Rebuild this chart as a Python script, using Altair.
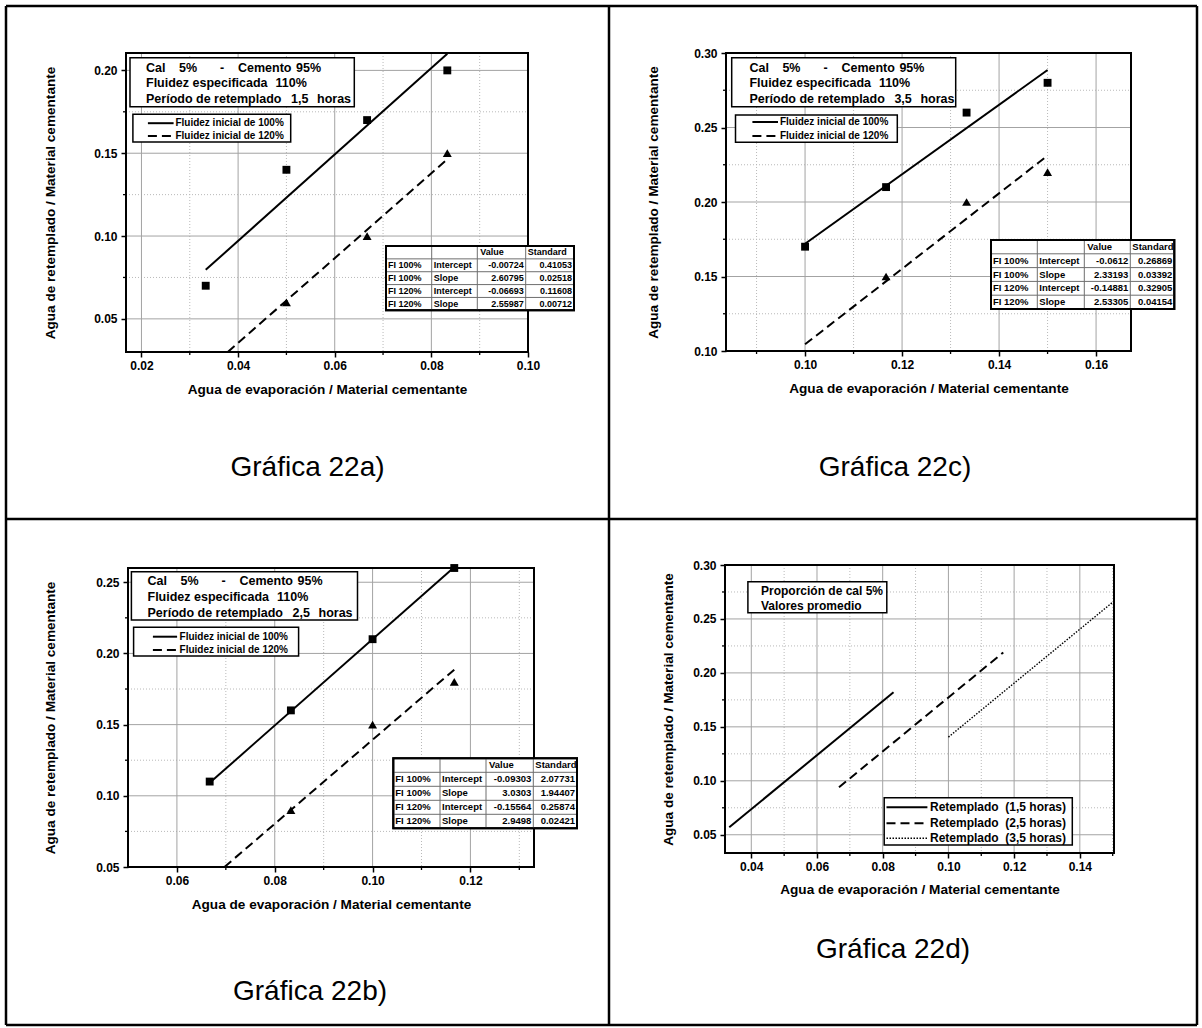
import altair as alt
import pandas as pd

W, H = 1202, 1028
FONT = "Liberation Sans"

X_TITLE = "Agua de evaporación / Material cementante"
Y_TITLE = "Agua de retemplado / Material cementante"

# ---------------- data ----------------
# Gráfica 22a: retemplado 1,5 horas
a_x_sq = [0.0333, 0.05, 0.0667, 0.0833]
a_y_sq = [0.07, 0.14, 0.17, 0.20]
a_x_tri = [0.05, 0.0667, 0.0833]
a_y_tri = [0.06, 0.10, 0.15]
a_value = [-0.00724, 2.60795, -0.06693, 2.55987]
a_std = [0.41053, 0.02518, 0.11608, 0.00712]

# Gráfica 22c: retemplado 3,5 horas
c_x_sq = [0.10, 0.1167, 0.1333, 0.15]
c_y_sq = [0.17, 0.21, 0.26, 0.28]
c_x_tri = [0.1167, 0.1333, 0.15]
c_y_tri = [0.15, 0.20, 0.22]
c_value = [-0.0612, 2.33193, -0.14881, 2.53305]
c_std = [0.26869, 0.03392, 0.32905, 0.04154]

# Gráfica 22b: retemplado 2,5 horas
b_x_sq = [0.0667, 0.0833, 0.10, 0.1167]
b_y_sq = [0.11, 0.16, 0.21, 0.26]
b_x_tri = [0.0833, 0.10, 0.1167]
b_y_tri = [0.09, 0.15, 0.18]
b_value = [-0.09303, 3.0303, -0.15564, 2.9498]
b_std = [2.07731, 1.94407, 0.25874, 0.02421]

# Gráfica 22d: average lines
d_series = ["Retemplado  (1,5 horas)", "Retemplado  (2,5 horas)", "Retemplado  (3,5 horas)"]
d_x0 = [0.0333, 0.0667, 0.10]
d_y0 = [0.057, 0.094, 0.1405]
d_x1 = [0.0833, 0.1167, 0.15]
d_y1 = [0.182, 0.219, 0.2655]
d_note = ["Proporción de cal 5%", "Valores promedio"]

fit_rows = ["FI 100%", "FI 100%", "FI 120%", "FI 120%"]
fit_params = ["Intercept", "Slope", "Intercept", "Slope"]
fit_header = ["Value", "Standard"]
legend_fl = ["Fluidez inicial de 100%", "Fluidez inicial de 120%"]

note_a = [["Cal", "5%", "-", "Cemento", "95%"], ["Fluidez especificada", "110%"],
          ["Período de retemplado", "1,5", "horas"]]
note_c = [["Cal", "5%", "-", "Cemento", "95%"], ["Fluidez especificada", "110%"],
          ["Período de retemplado", "3,5", "horas"]]
note_b = [["Cal", "5%", "-", "Cemento", "95%"], ["Fluidez especificada", "110%"],
          ["Período de retemplado", "2,5", "horas"]]

captions = ["Gráfica 22a)", "Gráfica 22c)", "Gráfica 22b)", "Gráfica 22d)"]

# ---------------- layout ----------------
PANELS = {
    "a": dict(box=(126, 528, 53, 352), xdom=[0.0168, 0.10], ydom=[0.03, 0.2105],
              xmaj=[0.02, 0.04, 0.06, 0.08, 0.10], xmin=[0.03, 0.05, 0.07, 0.09],
              ymaj=[0.05, 0.10, 0.15, 0.20], ymin=[0.075, 0.125, 0.175], ytx=50, xty=389),
    "c": dict(box=(726, 1131, 53, 351), xdom=[0.0837, 0.1672], ydom=[0.10, 0.30],
              xmaj=[0.10, 0.12, 0.14, 0.16], xmin=[0.09, 0.11, 0.13, 0.15],
              ymaj=[0.10, 0.15, 0.20, 0.25, 0.30], ymin=[0.125, 0.175, 0.225, 0.275], ytx=653, xty=388),
    "b": dict(box=(128, 534, 568, 867), xdom=[0.05, 0.133], ydom=[0.05, 0.26],
              xmaj=[0.06, 0.08, 0.10, 0.12], xmin=[0.07, 0.09, 0.11, 0.13],
              ymaj=[0.05, 0.10, 0.15, 0.20, 0.25], ymin=[0.075, 0.125, 0.175, 0.225], ytx=50, xty=904),
    "d": dict(box=(725, 1114, 565, 853), xdom=[0.032, 0.1504], ydom=[0.0331, 0.30],
              xmaj=[0.04, 0.06, 0.08, 0.10, 0.12, 0.14], xmin=[0.05, 0.07, 0.09, 0.11, 0.13, 0.15],
              ymaj=[0.05, 0.10, 0.15, 0.20, 0.25, 0.30], ymin=[0.075, 0.125, 0.175, 0.225, 0.275],
              ytx=668, xty=889),
}

NOTE_BOX = {"a": (130, 354.3, 57.7, 106.7), "c": (731.7, 955.7, 57.7, 106.7),
            "b": (131.4, 357.5, 571.7, 620), "d": (747.9, 886.8, 581.7, 612.7)}
NOTE_TEXT = {"a": (146, [67.7, 83.3, 99.3]), "c": (749.4, [67.7, 83.3, 99.3]),
             "b": (147.5, [581, 597.3, 612.7]), "d": (761, [591, 605.7])}
NOTE_OFFSETS = [[0, 33, 74, 92, 150], [0, 129.5], [0, 145, 171]]

LEG_BOX = {"a": (132.9, 290.7, 114.3, 142), "c": (735.5, 897.3, 115, 142.3),
           "b": (133.6, 298.6, 627.3, 656), "d": (884.2, 1072.3, 797.7, 845)}
LEG_SAMPLE = {"a": (147.9, 173.6, [123.2, 136], 175.4, 10),
              "c": (752.4, 778, [122, 136], 779.9, 10),
              "b": (152.9, 177.1, [636.7, 650], 179.6, 10),
              "d": (886.5, 927.4, [807.3, 823.3, 838.3], 930, 12)}

TABLES = {"a": ([386, 431.7, 477.3, 525.7, 574], 246, 310.3, 9),
          "c": ([991, 1037.3, 1084.3, 1130.3, 1174.3], 240, 309, 9.5),
          "b": ([393.3, 440, 486, 533.3, 577], 758.3, 828.3, 9.5)}

CAPTION_POS = [(307.5, 468), (895, 468), (310, 992), (893, 950)]
CAPTION_SIZE = 28
BORDER_X = [6, 609, 1197]
BORDER_Y = [6, 519, 1025]

DASH = [9, 5]
DOT = [1.5, 1.5]
LINE_W = 2


def fit_segment(a, b, x0, x1, ylo, yhi):
    """Fitted line y = a + b*x over [x0, x1], clipped to the plotted y range."""
    ya, yb = a + b * x0, a + b * x1
    if ya < ylo:
        x0, ya = (ylo - a) / b, ylo
    if yb > yhi:
        x1, yb = (yhi - a) / b, yhi
    return pd.DataFrame({"x": [x0, x1], "y": [ya, yb]})


def build_panel(p, fits=(), squares=None, triangles=None, segments=()):
    L, R, T, B = p["box"]
    sx = alt.Scale(domain=p["xdom"], range=[L, R], nice=False, zero=False)
    sy = alt.Scale(domain=p["ydom"], range=[B, T], nice=False, zero=False)
    common = dict(domain=False, grid=False, ticks=True, tickSize=5, tickWidth=1.5,
                  tickColor="black", format=".2f", labelFont=FONT, labelFontSize=12,
                  labelFontWeight="bold", labelColor="black", labelFlush=False,
                  labelOverlap=False, titleFont=FONT, titleFontSize=13.6,
                  titleFontWeight="bold", titleColor="black", titleBaseline="middle",
                  titleAlign="center")
    ax = alt.Axis(title=X_TITLE, orient="bottom", offset=B - H, values=p["xmaj"],
                  labelPadding=3, titleX=(L + R) / 2, titleY=p["xty"] - B, **common)
    ay = alt.Axis(title=Y_TITLE, orient="left", offset=-L, values=p["ymaj"],
                  labelPadding=4, titleX=p["ytx"] - L, titleY=(T + B) / 2, titleAngle=270,
                  **common)

    def X(f):
        return alt.X(f"{f}:Q", scale=sx, axis=ax)

    def Y(f):
        return alt.Y(f"{f}:Q", scale=sy, axis=ay)

    minor_grid = dict(color="#b9b9b9", strokeWidth=1, strokeDash=[1, 2])
    major_grid = dict(color="#a3a3a3", strokeWidth=1)
    layers = [
        alt.Chart(pd.DataFrame({"v": p["xmin"]})).mark_rule(**minor_grid).encode(
            x=X("v"), y=alt.value(T), y2=alt.value(B)),
        alt.Chart(pd.DataFrame({"v": p["ymin"]})).mark_rule(**minor_grid).encode(
            y=Y("v"), x=alt.value(L), x2=alt.value(R)),
        alt.Chart(pd.DataFrame({"v": p["xmaj"]})).mark_rule(**major_grid).encode(
            x=X("v"), y=alt.value(T), y2=alt.value(B)),
        alt.Chart(pd.DataFrame({"v": p["ymaj"]})).mark_rule(**major_grid).encode(
            y=Y("v"), x=alt.value(L), x2=alt.value(R)),
        # minor ticks, outward
        alt.Chart(pd.DataFrame({"v": p["xmin"]})).mark_rule(color="black", strokeWidth=1.3).encode(
            x=X("v"), y=alt.value(B), y2=alt.value(B + 3)),
        alt.Chart(pd.DataFrame({"v": p["ymin"]})).mark_rule(color="black", strokeWidth=1.3).encode(
            y=Y("v"), x=alt.value(L - 3), x2=alt.value(L)),
        # plot frame
        alt.Chart(pd.DataFrame({"k": [0]})).mark_rect(
            fillOpacity=0, stroke="black", strokeWidth=2).encode(
            x=alt.value(L), x2=alt.value(R), y=alt.value(T), y2=alt.value(B)),
    ]
    for df, dash, width in list(fits) + list(segments):
        kw = dict(color="black", strokeWidth=width)
        if dash:
            kw["strokeDash"] = dash
        layers.append(alt.Chart(df).mark_line(**kw).encode(x=X("x"), y=Y("y")))
    if squares is not None:
        layers.append(alt.Chart(squares).mark_point(
            shape="square", filled=True, size=62, color="black", opacity=1).encode(
            x=X("x"), y=Y("y")))
    if triangles is not None:
        layers.append(alt.Chart(triangles).mark_point(
            shape="triangle-up", filled=True, size=80, color="black", opacity=1).encode(
            x=X("x"), y=Y("y")))
    return alt.layer(*layers)


def fit_panel(key, xs, ys, xt, yt, values):
    p = PANELS[key]
    lo, hi = p["ydom"]
    x0, x1 = min(xs), max(xs)
    fits = [
        (fit_segment(values[0], values[1], x0, x1, lo, hi), None, LINE_W),
        (fit_segment(values[2], values[3], x0, x1, lo, hi), DASH, LINE_W),
    ]
    sq = pd.DataFrame({"x": xs, "y": ys})
    tr = pd.DataFrame({"x": xt, "y": yt})
    return build_panel(p, fits=fits, squares=sq, triangles=tr)


panel_a = fit_panel("a", a_x_sq, a_y_sq, a_x_tri, a_y_tri, a_value)
panel_c = fit_panel("c", c_x_sq, c_y_sq, c_x_tri, c_y_tri, c_value)
panel_b = fit_panel("b", b_x_sq, b_y_sq, b_x_tri, b_y_tri, b_value)

d_styles = [(None, LINE_W), (DASH, LINE_W), (DOT, 1.4)]
d_segments = [
    (pd.DataFrame({"x": [d_x0[i], d_x1[i]], "y": [d_y0[i], d_y1[i]]}), d_styles[i][0], d_styles[i][1])
    for i in range(3)
]
panel_d = build_panel(PANELS["d"], segments=d_segments)

# ---------------- annotation boxes, legends and fit tables ----------------
thin_boxes, thick_boxes, inner_lines = [], [], []
text_left, text_right = [], []
samples = {"solid": [], "dash": [], "dot": []}


def keep_spaces(s):
    # SVG collapses runs of spaces; keep the double gaps visible
    return s.replace("  ", " \u00a0")


def add_note(key, lines, fs):
    x0, x1, y0, y1 = NOTE_BOX[key]
    thin_boxes.append(dict(x=x0, x2=x1, y=y0, y2=y1))
    tx, rows = NOTE_TEXT[key]
    for r, pieces in enumerate(lines):
        offs = NOTE_OFFSETS[r] if len(pieces) > 1 else [0]
        for piece, off in zip(pieces, offs):
            text_left.append(dict(x=tx + off, y=rows[r], text=piece, fs=fs))


def add_legend(key, labels, styles):
    x0, x1, y0, y1 = LEG_BOX[key]
    thin_boxes.append(dict(x=x0, x2=x1, y=y0, y2=y1))
    sx0, sx1, rows, tx, fs = LEG_SAMPLE[key]
    for label, style, ry in zip(labels, styles, rows):
        samples[style].append(dict(x=sx0, x2=sx1, y=ry, y2=ry))
        text_left.append(dict(x=tx, y=ry, text=keep_spaces(label), fs=fs))


def add_table(key, values, stds):
    cols, top, bottom, fs = TABLES[key]
    thick_boxes.append(dict(x=cols[0], x2=cols[-1], y=top, y2=bottom))
    rh = (bottom - top) / 5
    for cx in cols[1:-1]:
        inner_lines.append(dict(x=cx, x2=cx, y=top, y2=bottom))
    for i in range(1, 5):
        yy = top + i * rh
        inner_lines.append(dict(x=cols[0], x2=cols[-1], y=yy, y2=yy))
    hy = top + 0.5 * rh
    text_left.append(dict(x=cols[2] + 3, y=hy, text=fit_header[0], fs=fs))
    text_left.append(dict(x=cols[3] + 2, y=hy, text=fit_header[1], fs=fs))
    for i in range(4):
        ry = top + (i + 1.5) * rh
        text_left.append(dict(x=cols[0] + 2, y=ry, text=fit_rows[i], fs=fs))
        text_left.append(dict(x=cols[1] + 2, y=ry, text=fit_params[i], fs=fs))
        text_right.append(dict(x=cols[3] - 2, y=ry, text=str(values[i]), fs=fs))
        text_right.append(dict(x=cols[4] - 2, y=ry, text=str(stds[i]), fs=fs))


add_note("a", note_a, 12.5)
add_note("c", note_c, 12.5)
add_note("b", note_b, 12.5)
add_note("d", [[t] for t in d_note], 12)
add_legend("a", legend_fl, ["solid", "dash"])
add_legend("c", legend_fl, ["solid", "dash"])
add_legend("b", legend_fl, ["solid", "dash"])
add_legend("d", d_series, ["solid", "dash", "dot"])
add_table("a", a_value, a_std)
add_table("c", c_value, c_std)
add_table("b", b_value, b_std)


def PX(f):
    return alt.X(f"{f}:Q", scale=None, axis=None)


def PY(f):
    return alt.Y(f"{f}:Q", scale=None, axis=None)


def rects(rows, **style):
    return alt.Chart(pd.DataFrame(rows)).mark_rect(**style).encode(
        x=PX("x"), x2=alt.X2("x2"), y=PY("y"), y2=alt.Y2("y2"))


def rules(rows, **style):
    return alt.Chart(pd.DataFrame(rows)).mark_rule(**style).encode(
        x=PX("x"), x2=alt.X2("x2"), y=PY("y"), y2=alt.Y2("y2"))


def texts(rows, align, weight="bold"):
    return alt.Chart(pd.DataFrame(rows)).mark_text(
        font=FONT, fontWeight=weight, align=align, baseline="middle", color="black").encode(
        x=PX("x"), y=PY("y"), text="text:N",
        size=alt.Size("fs:Q", scale=None, legend=None))


decor = [
    rects(thin_boxes, fill="white", stroke="black", strokeWidth=1.5),
    rects(thick_boxes, fill="white", stroke="black", strokeWidth=2),
    rules(inner_lines, color="#6e6e6e", strokeWidth=1),
    rects(thick_boxes, fillOpacity=0, stroke="black", strokeWidth=2),
    rules(samples["solid"], color="black", strokeWidth=LINE_W),
    rules(samples["dash"], color="black", strokeWidth=LINE_W, strokeDash=DASH),
    rules(samples["dot"], color="black", strokeWidth=1.4, strokeDash=DOT),
    texts(text_left, "left"),
    texts(text_right, "right"),
]

# outer table of the figure and captions
border_rows = [dict(x=x, x2=x, y=BORDER_Y[0], y2=BORDER_Y[-1]) for x in BORDER_X] + \
              [dict(x=BORDER_X[0], x2=BORDER_X[-1], y=y, y2=y) for y in BORDER_Y]
decor.append(rules(border_rows, color="black", strokeWidth=2.5))
caption_rows = [dict(x=px, y=py, text=t, fs=CAPTION_SIZE) for t, (px, py) in zip(captions, CAPTION_POS)]
decor.append(texts(caption_rows, "center", weight="normal"))

chart = alt.layer(panel_a, panel_c, panel_b, panel_d, *decor).resolve_scale(
    x="independent", y="independent"
).properties(
    width=W, height=H, padding=0, autosize=alt.AutoSizeParams(type="none")
).configure_view(stroke=None)

chart.save("out.html", embed_options={"renderer": "svg", "actions": False})
